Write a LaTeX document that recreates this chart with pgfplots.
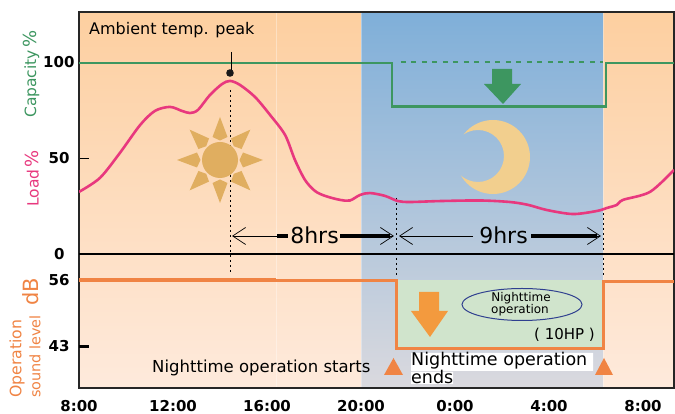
\documentclass[border=0pt]{standalone}
\usepackage{pgfplots}
\pgfplotsset{compat=1.18}
\usepackage{fontspec}
\setmainfont{DejaVu Sans}
\usetikzlibrary{arrows.meta}
\definecolor{cgreen}{HTML}{3D9660}
\definecolor{cpink}{HTML}{E8387E}
\definecolor{corange}{HTML}{F08444}
\definecolor{carrow}{HTML}{F39A3E}
\definecolor{csun}{HTML}{E0AE60}
\definecolor{cmoon}{HTML}{F2CF8E}
\newcommand{\fs}[1]{\fontsize{#1bp}{#1bp}\selectfont}
\tikzset{px/.style={x=1bp,y=-1bp,shift={(0,414bp)}}}
\begin{document}
\begin{tikzpicture}
\path[use as bounding box,fill=white] (0,0) rectangle (675bp,414bp);
% backgrounds
\begin{scope}[px]
\shade[top color={rgb,255:red,253;green,207;blue,160},bottom color={rgb,255:red,254;green,234;blue,220}] (79,12) rectangle (674,388);
\shade[top color={rgb,255:red,127;green,175;blue,217},bottom color={rgb,255:red,218;green,217;blue,222}] (361,12) rectangle (603,388);
\draw[white,opacity=.35,line width=.7bp] (276,12)--(276,388) (361,12)--(361,388) (603,12)--(603,388);
\fill[fill={rgb,255:red,208;green,228;blue,204}] (396,280) rectangle (603,348);
\draw[black,line width=.8bp,dash pattern=on 2.5bp off 2.5bp] (230,90)--(230,272) (396,198)--(396,276) (603,208)--(603,275);
% sun
\fill[csun] (220,160) circle (18);
\foreach \a in {0,45,...,315}{
  \fill[csun,rotate around={\a:(220,160)}] (212.5,137)--(220,117)--(227.5,137)--(220,140.5)--cycle;
}
% moon
\begin{scope}
\clip (493,157) circle (37);
\fill[cmoon,even odd rule] (440,110) rectangle (540,205) (478,156) circle (26);
\end{scope}
% green arrow
\fill[cgreen] (492,69)--(512,69)--(512,84)--(521,84)--(503,104)--(484,84)--(492,84)--cycle;
% orange arrow
\fill[carrow] (419,292)--(439,292)--(439,311)--(448,311)--(430,337)--(411,311)--(419,311)--cycle;
\end{scope}
% percent axis
\begin{axis}[
  at={(79bp,26bp)},anchor=south west,
  scale only axis,width=595bp,height=376bp,
  xmin=8,xmax=33.32,ymin=-70.2,ymax=126.7,
  xtick={8,12,16,20,24,28,32},
  xticklabels={8:00,12:00,16:00,20:00,0:00,4:00,8:00},
  ytick={100,50,0},
  yticklabels={\raisebox{3bp}{100},50\hspace*{5bp},\raisebox{1bp}{0}\hspace*{10bp}},
  tick label style={font=\fs{15}\bfseries,black},
  xticklabel style={yshift=-8.5bp},
  yticklabel style={xshift=-1bp},
  ytick align=inside,major tick length=10bp,ytick pos=left,
  xtick style={draw=none},
  ytick style={black,line width=1.2bp},
  axis line style={black!85,line width=1.3bp},
  clip=true,
]
\addplot[black,line width=1.2bp] coordinates {(8,0) (33.32,0)};
\addplot[cgreen,line width=2.8bp] coordinates {(8,100) (21.32,100) (21.32,77.2) (30.43,77.2) (30.43,100) (33.32,100)};
\addplot[cgreen,line width=2.5bp,dash pattern=on 5bp off 5.5bp] coordinates {(21.7,100.5) (30.3,100.5)};
\addplot[cpink,line width=2.6bp,smooth,tension=0.5] coordinates {
(8,32.5)(8.89,39.8)(9.74,52.9)(10.6,67.5)(11.23,74.9)(11.87,77.0)(12.38,74.9)(12.72,73.8)(13.06,75.4)(13.57,83.2)(14.09,89.0)(14.43,90.6)(14.85,88.5)(15.49,82.2)(16.13,72.8)(16.77,62.3)(17.19,49.2)(17.62,38.7)(18.04,33.0)(18.47,30.4)(19.11,28.3)(19.53,28.0)(19.96,30.9)(20.38,31.9)(21.02,30.4)(21.57,27.7)(22.09,27.2)(23.36,27.7)(25.06,28.0)(26.34,27.2)(27.11,25.7)(27.91,23.0)(29.02,20.9)(30.04,22.5)(30.47,24.1)(30.89,25.7)(31.15,28.3)(32.3,32.5)(33.32,44.0)};
\end{axis}
% dB axis
\begin{axis}[
  at={(79bp,26bp)},anchor=south west,
  scale only axis,width=595bp,height=376bp,
  xmin=8,xmax=33.32,ymin=34.73,ymax=108.8,
  xtick=\empty,
  ytick={56,43},yticklabels={56,43},
  tick label style={font=\fs{15}\bfseries,black},
  yticklabel style={xshift=-6bp},
  ytick align=inside,major tick length=10bp,ytick pos=left,
  ytick style={black,line width=3bp},
  axis line style={draw=none},
]
\addplot[corange,line width=3bp] coordinates {(8,56) (21.49,56) (21.49,42.6) (30.3,42.6) (30.3,55.8) (33.32,55.8)};
\addplot[corange,line width=4.5bp] coordinates {(8,56) (16.38,56)};
\end{axis}
% annotations
\begin{scope}[px]
\draw[black,line width=1bp] (231,52)--(231,72);
\fill[black!90] (230,73) circle (3.8);
\node[anchor=west,inner sep=0,font=\fs{16}] at (89,30) {Ambient temp. peak};
% hours arrows
\draw[black,line width=.7bp,-{Straight Barb[length=13bp,width=17bp]}] (277,236)--(232,236);
\draw[black,line width=3.5bp] (277,236)--(288,236);
\draw[black,line width=3.5bp] (340,236)--(390,236);
\draw[black,line width=.7bp,-{Straight Barb[length=13bp,width=17bp]}] (375,236)--(394,236);
\node[inner sep=0,font=\fs{22}] at (314.5,235) {8hrs};
\draw[black,line width=.7bp,-{Straight Barb[length=13bp,width=17bp]}] (473,236)--(399,236);
\draw[black,line width=3.5bp] (531,236)--(597,236);
\draw[black,line width=.7bp,-{Straight Barb[length=13bp,width=17bp]}] (585,236)--(601,236);
\node[inner sep=0,font=\fs{22}] at (503.5,235) {9hrs};
% nighttime texts
\draw[color={rgb,255:red,47;green,63;blue,143},line width=1bp] (522,304.5) ellipse (60 and 16);
\node[inner sep=0,font=\fs{12}] at (521,298) {Nighttime};
\node[inner sep=0,font=\fs{12}] at (520,310) {operation};
\node[anchor=east,inner sep=0,font=\fs{15}] at (595,335) {( 10HP )};
\node[anchor=west,inner sep=0,font=\fs{16.5}] at (152,368) {Nighttime operation starts};
\fill[white] (411,353) rectangle (593,371) (411,372) rectangle (453,384);
\node[anchor=west,inner sep=0,font=\fs{17.5}] at (411,361) {Nighttime operation};
\node[anchor=west,inner sep=0,font=\fs{17.5}] at (411,377) {ends};
\fill[corange] (384,375)--(393.5,358)--(403,375)--cycle (595,375)--(604,358)--(613,375)--cycle;
% y titles
\node[rotate=90,anchor=west,inner sep=0,text=cgreen,font=\fs{15.5}] at (31,118) {Capacity\,{\fs{18}\%}};
\node[rotate=90,anchor=west,inner sep=0,text=cpink,font=\fs{15.5}] at (32,207) {Load\,{\fs{18}\%}};
\node[rotate=90,anchor=west,inner sep=0,text=corange,font=\fs{15.7}] at (17,398) {Operation};
\node[rotate=90,anchor=west,inner sep=0,text=corange,font=\fs{14.4}] at (35,398) {sound level};
\node[rotate=90,anchor=west,inner sep=0,text=corange,font=\fs{21}] at (31,306) {dB};
\end{scope}
\end{tikzpicture}
\end{document}
